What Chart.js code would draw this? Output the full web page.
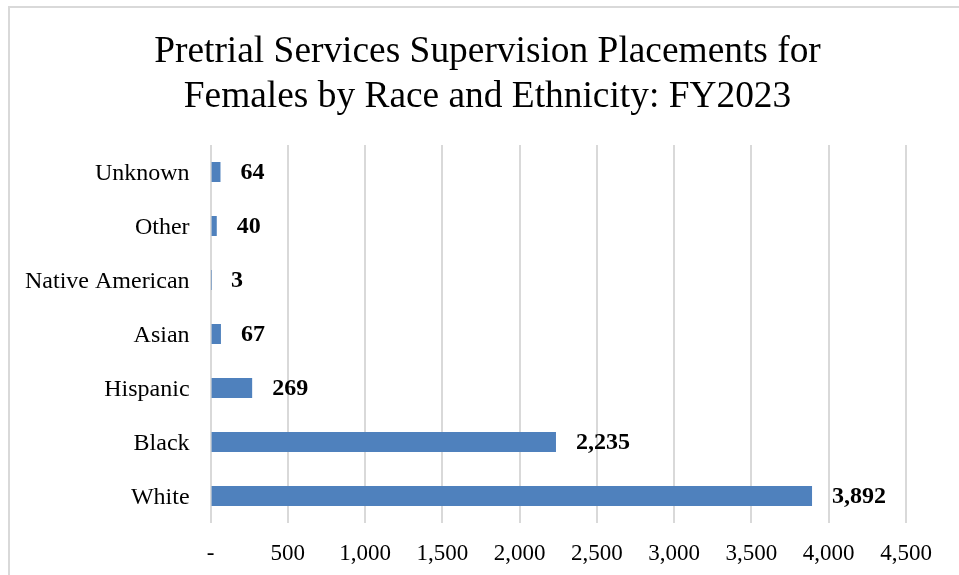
<!DOCTYPE html>
<html>
<head>
<meta charset="utf-8">
<script src="https://cdn.jsdelivr.net/npm/chart.js@4"></script>
<style>
    html, body { margin: 0; padding: 0; background: #fff; }
    #frame {
        position: absolute; left: 8px; top: 6px;
        width: 960px; height: 580px;
        border: 2px solid #d9d9d9; box-sizing: border-box;
    }
    #wrap { position: absolute; left: 0; top: 0; width: 959px; height: 575px; }
</style>
</head>
<body>
<div id="frame"></div>
<div id="wrap"><canvas id="chart"></canvas></div>
<script>
// categories from top to bottom, as they appear in the chart
const categories = ['Unknown', 'Other', 'Native American', 'Asian', 'Hispanic', 'Black', 'White'];
const placements = [64, 40, 3, 67, 269, 2235, 3892];
const titleLines = ['Pretrial Services Supervision Placements for', 'Females by Race and Ethnicity: FY2023'];
const X_MAX = 4500;
const X_STEP = 500;

const FONT = "'Liberation Serif', 'Times New Roman', serif";

function fmt(v) {
    if (v === 0) return '-';
    return v.toLocaleString('en-US');
}

//The title is centred on the whole frame, not on the padded chart box, so it is drawn here
const frameTitle = {
    id: 'frameTitle',
    afterDraw(chart) {
        const ctx = chart.ctx;
        ctx.save();
        ctx.font = '37.4px ' + FONT;
        ctx.fillStyle = '#000';
        ctx.textAlign = 'center';
        ctx.textBaseline = 'middle';
        titleLines.forEach((line, i) => {
            ctx.fillText(line, 487.5, 52 + i * 45);
        });
        ctx.restore();
    }
};

//Draw the value next to the end of each bar
const valueLabels = {
    id: 'valueLabels',
    afterDatasetsDraw(chart) {
        const ctx = chart.ctx;
        const meta = chart.getDatasetMeta(0);
        ctx.save();
        ctx.font = 'bold 24px ' + FONT;
        ctx.fillStyle = '#000';
        ctx.textAlign = 'left';
        ctx.textBaseline = 'middle';
        meta.data.forEach((bar, i) => {
            ctx.fillText(fmt(placements[i]), bar.x + 20, bar.y + 1);
        });
        ctx.restore();
    }
};

new Chart(document.getElementById('chart'), {
    type: 'bar',
    data: {
        labels: categories,
        datasets: [{
            data: placements,
            backgroundColor: '#4f81bd',
            barPercentage: 0.37,
            categoryPercentage: 1
        }]
    },
    options: {
        indexAxis: 'y',
        responsive: true,
        maintainAspectRatio: false,
        animation: false,
        layout: { padding: { left: 4, right: 53, top: 145, bottom: 0 } },
        plugins: {
            legend: { display: false },
            tooltip: { enabled: false },
            title: { display: false }
        },
        scales: {
            x: {
                min: 0,
                max: X_MAX,
                ticks: {
                    stepSize: X_STEP,
                    color: '#000',
                    font: { family: FONT, size: 23 },
                    padding: 17,
                    maxRotation: 0,
                    callback: (v) => fmt(v)
                },
                grid: { color: '#d9d9d9', lineWidth: 2, drawTicks: false },
                border: { display: false },
                afterFit: (scale) => {
                    scale.height = 52;
                }
            },
            y: {
                ticks: {
                    color: '#000',
                    font: { family: FONT, size: 24 },
                    padding: 21,
                    labelOffset: 2
                },
                grid: { display: false, drawTicks: false },
                border: { display: false }
            }
        }
    },
    plugins: [valueLabels, frameTitle]
});
</script>
</body>
</html>
